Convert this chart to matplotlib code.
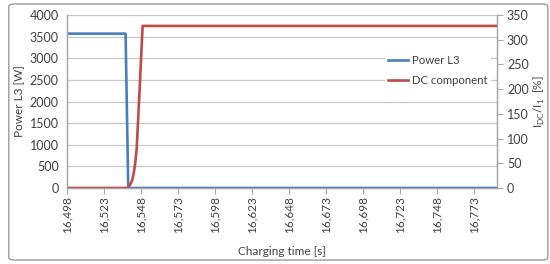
import matplotlib
matplotlib.use("Agg")
import matplotlib.pyplot as plt
from matplotlib.patches import FancyBboxPatch
from matplotlib.ticker import FuncFormatter

plt.rcParams['font.family'] = ['Lato', 'DejaVu Sans']

# Data (time in s)
power_time = [16498, 16537.5, 16539.3, 16788]
power_l3 = [3570, 3570, 0, 0]

dc_time = [16498, 16538, 16539, 16540, 16541, 16542, 16543, 16544,
           16545, 16546, 16547, 16548, 16549, 16788]
dc_component = [0, 0, 1, 4, 9, 16, 30, 50, 80, 140, 200, 265, 328, 328]

x_ticks = [16498, 16523, 16548, 16573, 16598, 16623, 16648, 16673,
           16698, 16723, 16748, 16773]
left_ticks = [0, 500, 1000, 1500, 2000, 2500, 3000, 3500, 4000]
right_ticks = [0, 50, 100, 150, 200, 250, 300, 350]

blue = "#4A7EBB"
red = "#BE4B48"
grey = "#A6A6A6"
text_c = "#404040"

fig = plt.figure(figsize=(5.5, 2.64), dpi=100)
fig.patches.append(FancyBboxPatch((0.016, 0.015), 0.98, 0.97,
                                  boxstyle="round,pad=0,rounding_size=0.01",
                                  transform=fig.transFigure, fill=False,
                                  edgecolor="#9A9A9A", linewidth=1.0))

ax = fig.add_axes([0.122, 0.288, 0.782, 0.655])
ax2 = ax.twinx()

l1, = ax.plot(power_time, power_l3, color=blue, linewidth=1.9, label="Power L3")
l2, = ax2.plot(dc_time, dc_component, color=red, linewidth=1.9, label="DC component")

ax.set_xlim(16498, 16788.5)
ax.set_ylim(0, 4000)
ax2.set_ylim(0, 350)
ax.set_xticks(x_ticks)
ax.xaxis.set_major_formatter(FuncFormatter(lambda v, p: f"{int(round(v)):,}"))
ax.set_yticks(left_ticks)
ax2.set_yticks(right_ticks)

ax.grid(True, axis="y", color="#C8C8C8", linewidth=0.9)
ax.set_axisbelow(True)

for a in (ax, ax2):
    a.spines["top"].set_visible(False)
    for s in ("left", "right", "bottom"):
        a.spines[s].set_color(grey)
        a.spines[s].set_linewidth(0.9)

ax.tick_params(axis="x", labelrotation=90, length=4, color=grey,
               labelsize=8.5, labelcolor=text_c, pad=2)
ax.tick_params(axis="y", length=0, labelsize=9, labelcolor=text_c, pad=6)
ax2.tick_params(axis="y", length=4, color=grey, labelsize=9,
                labelcolor=text_c, pad=3)

ax.set_xlabel("Charging time [s]", fontsize=8.5, color=text_c, labelpad=9)
ax.set_ylabel("Power L3 [W]", fontsize=8.5, color=text_c, labelpad=3)
ax2.set_ylabel(r"I$_{\mathregular{DC}}$/I$_{\mathregular{1}}$  [%]",
               fontsize=8.5, color=text_c, labelpad=2)

leg = ax2.legend(handles=[l1, l2], loc="upper left",
                 bbox_to_anchor=(0.738, 0.79), frameon=True, fontsize=8.2,
                 handlelength=1.8, handletextpad=0.3, labelspacing=0.8,
                 borderpad=0.3, borderaxespad=0)
leg.get_frame().set_edgecolor("none")
leg.get_frame().set_facecolor("white")
leg.get_frame().set_alpha(1)
for t in leg.get_texts():
    t.set_color(text_c)

fig.savefig("out.png", dpi=100)
